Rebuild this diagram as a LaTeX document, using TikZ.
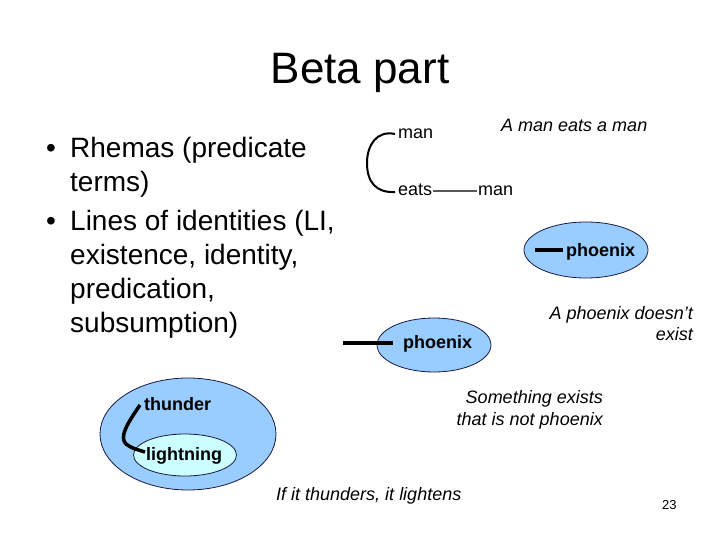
\documentclass[tikz,border=0pt]{standalone}
\usepackage{fontspec}
\setmainfont{Liberation Sans}
\usetikzlibrary{shapes.geometric}
\definecolor{ellblue}{HTML}{99CCFF}
\definecolor{ellcyan}{HTML}{CCFFFF}
\definecolor{ellline}{HTML}{1A1A40}
\tikzset{
  lbl/.style={inner sep=0pt, font=\fontsize{18}{21.6}\selectfont\bfseries, anchor=base west},
  plain/.style={inner sep=0pt, font=\fontsize{18}{21.6}\selectfont, anchor=base west},
  capt/.style={inner sep=0pt, font=\fontsize{18}{21.6}\selectfont\itshape},
  bul/.style={inner sep=0pt, font=\fontsize{28}{34}\selectfont, anchor=base west},
  oval/.style={ellipse, draw=ellline, line width=0.8pt, inner sep=0pt},
  lil/.style={line width=3.5pt, black},
}
\begin{document}
\begin{tikzpicture}[x=1pt,y=-1pt]
\useasboundingbox[fill=white] (0,0) rectangle (720,540);

% title
\node[inner sep=0pt, font=\fontsize{44}{50}\selectfont, anchor=base] (title) at (360,84) {Beta part};

% bullets
\node[bul] (b1) at (46,158) {•};
\node[bul] (t1) at (70,158) {Rhemas (predicate};
\node[bul] (t2) at (70,192) {terms)};
\node[bul] (b2) at (46,230) {•};
\node[bul] (t3) at (70,230) {Lines of identities (LI,};
\node[bul] (t4) at (70,264) {existence, identity,};
\node[bul] (t5) at (70,298) {predication,};
\node[bul] (t6) at (70,332) {subsumption)};

% man eats a man
\node[capt, anchor=base west] (c1) at (501,132) {A man eats a man};
\node[plain] (man1) at (398,139) {man};
\node[plain] (eats) at (398,196) {eats};
\node[plain] (man2) at (478,196) {man};
\draw[line width=2pt, black] ([xshift=-3pt,yshift=5pt]man1.base west) .. controls (376,130) and (367,146) .. (367,163) .. controls (367,182) and (376,193) .. ([xshift=-3pt,yshift=4pt]eats.base west);
\draw[line width=2pt, black!65] ([xshift=1pt,yshift=5pt]eats.base east) -- ([xshift=-1pt,yshift=5pt]man2.base west);

% phoenix upper
\node[oval, fill=ellblue, minimum width=124pt, minimum height=56pt] (e1) at (586,250) {};
\node[lbl] (ph1) at (566,256) {phoenix};
\draw[lil] ([xshift=-31pt,yshift=6pt]ph1.base west) coordinate (ph1end) -- ([xshift=-3pt,yshift=6pt]ph1.base west);
\node[capt, anchor=base east] (c2a) at (693,319) {A phoenix doesn't};
\node[capt, anchor=base east] (c2b) at (693,340) {exist};

% phoenix lower
\node[oval, fill=ellblue, minimum width=114pt, minimum height=54pt] (e2) at (434,345) {};
\node[lbl] (ph2) at (403,348) {phoenix};
\coordinate (ph2end) at (343,343);
\draw[lil] (ph2end) -- ([xshift=-10pt,yshift=5pt]ph2.base west);
\node[capt, anchor=base east] (c3a) at (603,403) {Something exists};
\node[capt, anchor=base east] (c3b) at (603,425) {that is not phoenix};

% thunder / lightning
\node[oval, fill=ellblue, minimum width=176pt, minimum height=112pt] (e3) at (188,434) {};
\node[oval, fill=ellcyan, minimum width=103pt, minimum height=42pt] (e4) at (185,455) {};
\node[lbl] (th) at (144,410) {thunder};
\node[lbl] (li) at (146,460) {lightning};
\draw[line width=3.5pt, black] ([xshift=-4pt,yshift=5pt]th.base west) .. controls (127,424) and (119,437) .. (126,444) .. controls (132,448) .. ([xshift=-1pt,yshift=8pt]li.base west);
\node[capt, anchor=base west] (c4) at (276,500) {If it thunders, it lightens};

% page number
\node[inner sep=0pt, font=\fontsize{13}{15}\selectfont, anchor=base west] (pg) at (662,509) {23};
\end{tikzpicture}
\end{document}
